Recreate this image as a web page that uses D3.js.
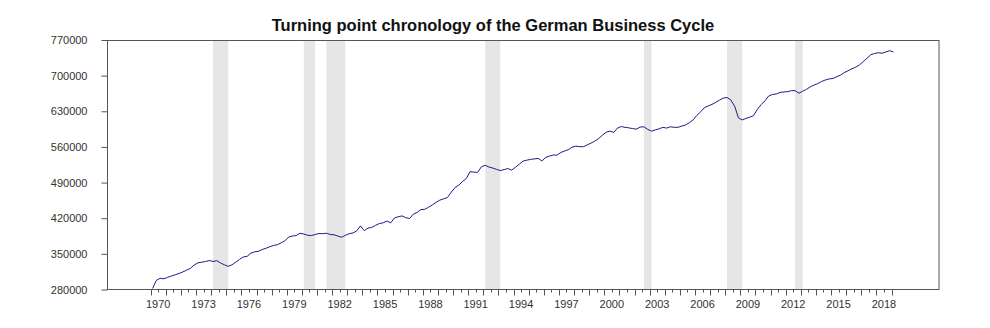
<!DOCTYPE html>
<html><head><meta charset="utf-8">
<script src="https://cdn.jsdelivr.net/npm/d3@7/dist/d3.min.js"></script>
<style>
body{margin:0;background:#fff;}
text{font-family:Arial,"Liberation Sans",sans-serif;}
</style>
</head><body>
<svg id="chart" width="990" height="328"></svg>
<script>
const title = "Turning point chronology of the German Business Cycle";
const firstQuarter = "1970Q1";
const gdp = [
  282000, 298000, 302000, 301000, 304000, 306500, 309000, 311500, 314500, 318000,
  321500, 328000, 332500, 333500, 335000, 337000, 335000, 336500, 332000, 328500,
  325500, 328500, 333500, 339000, 344000, 345000, 351500, 354000, 355000, 358500,
  361000, 364000, 366500, 368000, 371500, 375500, 383000, 385000, 386000, 390500,
  389000, 386500, 386000, 388000, 390000, 389500, 390500, 388000, 387500, 385000,
  382500, 386500, 389500, 391000, 395000, 405000, 395500, 400500, 402000, 406000,
  409500, 411000, 414500, 410800, 420500, 423000, 424500, 421000, 419500, 428000,
  431500, 437000, 437500, 441500, 446000, 451000, 455500, 458000, 460500, 471000,
  480000, 485000, 492000, 498000, 511500, 510500, 510000, 521000, 524000, 520500,
  518500, 516000, 513500, 515500, 517500, 514500, 520000, 526000, 532000, 534000,
  535500, 536500, 537500, 532500, 539500, 542000, 544000, 544000, 549000, 552000,
  554500, 559500, 561500, 560500, 560500, 564000, 567500, 571500, 576500, 583000,
  589000, 591000, 588500, 597000, 600000, 598500, 597500, 596000, 595000, 599000,
  599500, 594500, 591000, 593500, 595500, 598500, 597000, 599500, 598500, 598500,
  601000, 603000, 607500, 613000, 622000, 629000, 637000, 640500, 643500, 647500,
  652000, 656000, 657000, 652000, 640000, 617000, 613000, 616000, 618500, 621500,
  634000, 643000, 650500, 660000, 663000, 664000, 667000, 668000, 668500, 670500,
  670500, 665500, 669500, 673000, 678000, 681500, 684500, 688500, 691500, 693500,
  694500, 698000, 701000, 706000, 709500, 713500, 716500, 721000, 727500, 734000,
  741000, 743500, 745000, 744000, 746500, 749000, 746500
];
const recessionPeaks   = ["1974Q1","1980Q1","1981Q3","1992Q1","2002Q3","2008Q1","2012Q3"];
const recessionTroughs = ["1975Q1","1980Q4","1982Q4","1993Q1","2003Q1","2009Q1","2013Q1"];
const yTicks = [280000, 350000, 420000, 490000, 560000, 630000, 700000, 770000];
const xTickLabels = ["1970","1973","1976","1979","1982","1985","1988","1991","1994","1997","2000","2003","2006","2009","2012","2015","2018"];
const xTickFirst = 1970, xTickLast = 2019;

// layout
const plotL = 107, plotR = 939, plotT = 40, plotB = 289.5;
const xDomain = [1967.11, 2022.14];

function qToYear(q){ const y = +q.slice(0,4), n = +q.slice(5); return y + (n-1)*0.25 + 0.125; }
const startYear = qToYear(firstQuarter);
const series = gdp.map((v,i)=>({t: startYear + i*0.25, v}));

const svg = d3.select("#chart");
const x = d3.scaleLinear().domain(xDomain).range([plotL, plotR]);
const y = d3.scaleLinear().domain([yTicks[0], yTicks[yTicks.length-1]]).range([plotB, plotT]);

// recession shading
svg.append("g").selectAll("rect").data(recessionPeaks.map((p,i)=>[qToYear(p), qToYear(recessionTroughs[i])]))
  .join("rect")
  .attr("x", d=>x(d[0])).attr("width", d=>x(d[1])-x(d[0]))
  .attr("y", plotT).attr("height", plotB-plotT)
  .attr("fill", "#e6e6e6");

// line
svg.append("path").datum(series)
  .attr("d", d3.line().x(d=>x(d.t)).y(d=>y(d.v)))
  .attr("fill","none").attr("stroke","#1c1c86").attr("stroke-width",1);

// frame
svg.append("rect").attr("x", plotL+0.5).attr("y", plotT+0.5)
  .attr("width", plotR-plotL-0.5).attr("height", plotB-plotT-0.5)
  .attr("fill","none").attr("stroke","#555").attr("stroke-width",1);

// y axis
const yAxis = d3.axisLeft(y).tickValues(yTicks).tickSize(6).tickPadding(14).tickFormat(d3.format("d"));
const gy = svg.append("g").attr("transform", `translate(${plotL+0.5},0)`).call(yAxis);
gy.select(".domain").remove();
gy.selectAll(".tick line").attr("stroke","#555");
gy.selectAll("text").attr("fill","#333").style("font-size","11px").style("font-family","Arial,'Liberation Sans',sans-serif");

// x axis: long ticks at years, short at half-years, labels centered on year
const yearTicks = d3.range(xTickFirst, xTickLast+1);
const halfTicks = d3.range(xTickFirst, xTickLast).map(v=>v+0.5);
const gx = svg.append("g");
gx.selectAll("line.major").data(yearTicks).join("line")
  .attr("x1", d=>Math.round(x(d))+0.5).attr("x2", d=>Math.round(x(d))+0.5)
  .attr("y1", plotB).attr("y2", plotB+6).attr("stroke","#555");
gx.selectAll("line.minor").data(halfTicks).join("line")
  .attr("x1", d=>Math.round(x(d))+0.5).attr("x2", d=>Math.round(x(d))+0.5)
  .attr("y1", plotB).attr("y2", plotB+3).attr("stroke","#555");
gx.selectAll("text").data(xTickLabels).join("text")
  .attr("x", d=>x(+d+0.5)).attr("y", 308)
  .attr("text-anchor","middle").attr("fill","#333").style("font-size","11px")
  .text(d=>d);

// title
svg.append("text").attr("x", 493).attr("y", 31).attr("text-anchor","middle")
  .style("font-size","16.5px").style("font-weight","bold").attr("fill","#111")
  .text(title);
</script>
</body></html>
